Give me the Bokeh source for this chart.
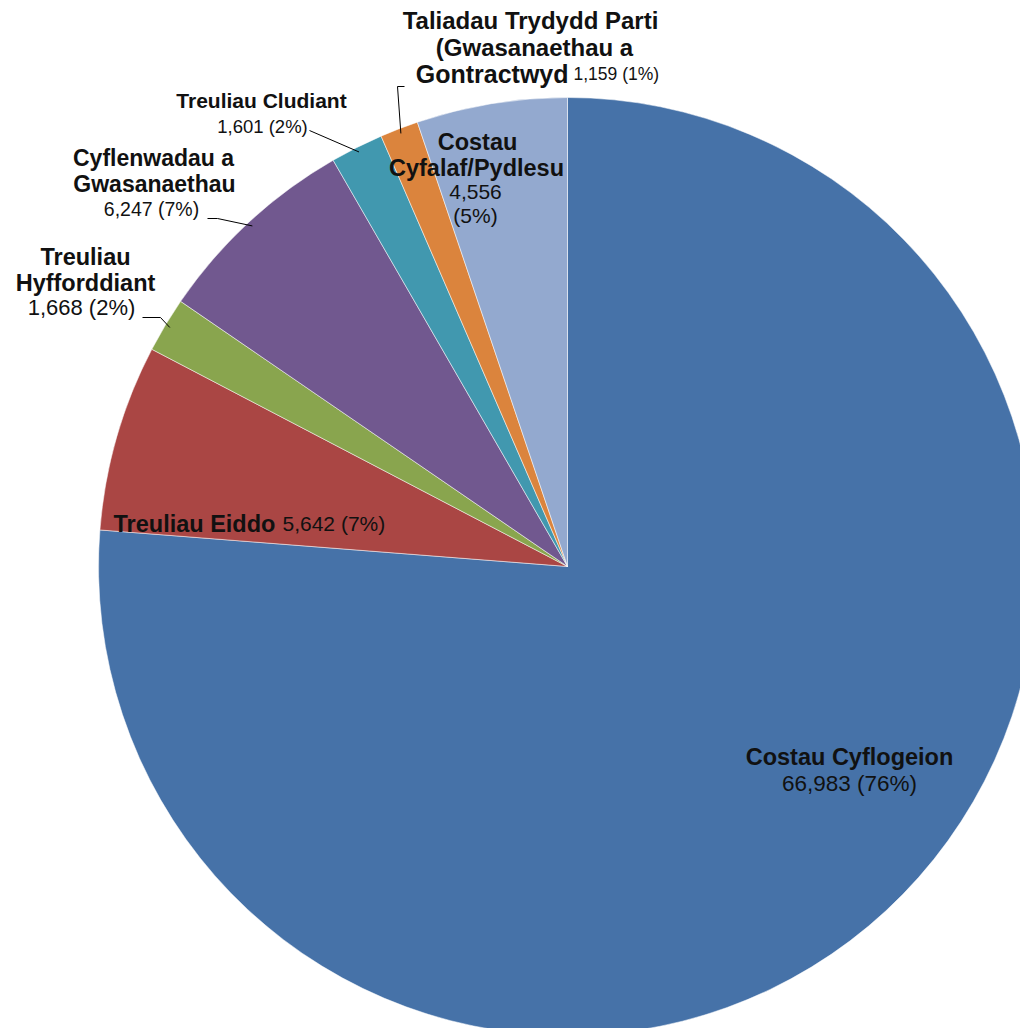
import math
from bokeh.plotting import figure
from bokeh.models import Range1d, ColumnDataSource
from bokeh.core.properties import value
from bokeh.embed import file_html
from bokeh.resources import INLINE

# ---- data (clockwise from 12 o'clock) ----
categories = ["Costau Cyflogeion", "Treuliau Eiddo", "Treuliau Hyfforddiant",
              "Cyflenwadau a Gwasanaethau", "Treuliau Cludiant",
              "Taliadau Trydydd Parti (Gwasanaethau a Gontractwyd",
              "Costau Cyfalaf/Pydlesu"]
amounts = [66983, 5642, 1668, 6247, 1601, 1159, 4556]
percent_labels = ["76%", "7%", "2%", "7%", "2%", "1%", "5%"]
colors = ["#4672A8", "#AA4644", "#89A54E", "#71588F", "#4198AF", "#DB843D", "#93A9CF"]

W, H = 1020, 1028
def Y(py):  # screenshot pixel y -> data y
    return H - py

p = figure(width=W, height=H, x_range=Range1d(0, W), y_range=Range1d(0, H),
           output_backend="svg", toolbar_location=None, min_border=0)
p.axis.visible = False
p.grid.visible = False
p.outline_line_color = None
p.background_fill_color = "white"

cx, cy, R = 567, Y(566), 469
total = sum(amounts)
starts, ends, mids = [], [], []
cum = 0
for a in amounts:
    s = math.pi / 2 - 2 * math.pi * cum / total
    cum += a
    e = math.pi / 2 - 2 * math.pi * cum / total
    starts.append(s); ends.append(e); mids.append((s + e) / 2)

src = ColumnDataSource(dict(start=starts, end=ends, color=colors, cat=categories))
p.wedge(x=cx, y=cy, radius=R, start_angle="start", end_angle="end", direction="clock",
        fill_color="color", line_color="white", line_alpha=0.5, line_width=1, source=src)

def fmt(i):
    return f"{amounts[i]:,}"

FONT = value("Liberation Sans")
TXT = "#111111"

def txt(x, py, s, size, bold=True, align="center"):
    p.text(x=[x], y=[Y(py)], text=[s], text_font=FONT, text_font_size=size,
           text_font_style="bold" if bold else "normal", text_align=align,
           text_baseline="middle", text_color=TXT)

# Costau Cyflogeion
txt(849, 756, categories[0], "23.5px")
txt(849, 783, f"{fmt(0)} ({percent_labels[0]})", "22.5px", bold=False)
# Treuliau Eiddo
txt(113, 523, categories[1], "23.5px", align="left")
txt(282, 523, f"{fmt(1)} ({percent_labels[1]})", "21px", bold=False, align="left")
# Treuliau Hyfforddiant
txt(85, 256, "Treuliau", "23.5px")
txt(85, 282, "Hyfforddiant", "23.5px")
txt(81, 307, f"{fmt(2)} ({percent_labels[2]})", "22px", bold=False)
# Cyflenwadau a Gwasanaethau
txt(153, 157, "Cyflenwadau a", "23px")
txt(154, 183, "Gwasanaethau", "23px")
txt(151, 208, f"{fmt(3)} ({percent_labels[3]})", "19.5px", bold=False)
# Treuliau Cludiant
txt(261, 100, categories[4], "21px")
txt(262, 126, f"{fmt(4)} ({percent_labels[4]})", "18.5px", bold=False)
# Taliadau Trydydd Parti
txt(530, 20, "Taliadau Trydydd Parti", "24px")
txt(534, 47, "(Gwasanaethau a", "24px")
txt(568, 73, "Gontractwyd", "25px", align="right")
txt(573, 73, f"{fmt(5)} ({percent_labels[5]})", "17.5px", bold=False, align="left")
# Costau Cyfalaf/Pydlesu
txt(477, 141, "Costau", "23.5px")
txt(476, 167, "Cyfalaf/Pydlesu", "23.5px")
txt(475, 191, fmt(6), "21px", bold=False)
txt(475, 215, f"({percent_labels[6]})", "21px", bold=False)

# leader lines: label anchor -> slice edge at mid angle
def edge(i, r=R - 5):
    return cx + r * math.cos(mids[i]), cy + r * math.sin(mids[i])

leaders = [
    (5, [(404, 86), (397, 86)]),
    (4, [(309, 130)]),
    (3, [(207, 218), (217, 218)]),
    (2, [(142, 317), (160, 317)]),
]
xs, ys = [], []
for i, pts in leaders:
    ex, ey = edge(i)
    xs.append([q[0] for q in pts] + [ex])
    ys.append([Y(q[1]) for q in pts] + [ey])
p.multi_line(xs=xs, ys=ys, line_color="#000000", line_width=1)

open("out.html", "w").write(file_html(p, INLINE))
